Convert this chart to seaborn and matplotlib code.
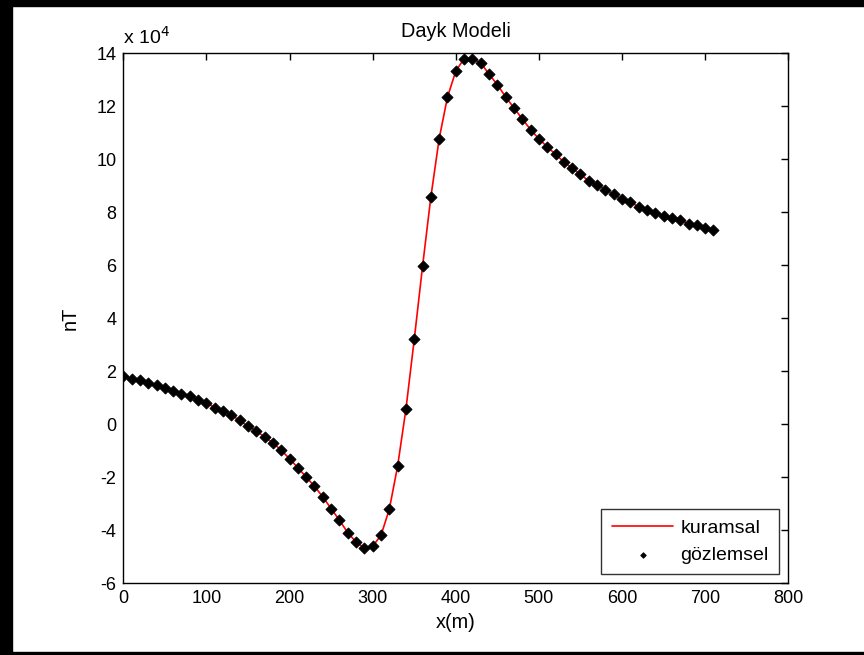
import numpy as np
import pandas as pd
import matplotlib
matplotlib.use("Agg")
import matplotlib.pyplot as plt
from matplotlib.patches import Rectangle
import seaborn as sns

# profile positions (m)
x_m = list(range(0, 720, 10))

gozlemsel = [1.81, 1.72, 1.66, 1.56, 1.48, 1.38, 1.26, 1.16, 1.06, 0.93,
             0.81, 0.63, 0.50, 0.34, 0.15, -0.08, -0.25, -0.48, -0.70, -0.98,
             -1.30, -1.64, -1.99, -2.34, -2.74, -3.18, -3.62, -4.09, -4.44, -4.67,
             -4.60, -4.19, -3.21, -1.58, 0.57, 3.20, 5.96, 8.58, 10.78, 12.35,
             13.33, 13.80, 13.80, 13.64, 13.21, 12.82, 12.35, 11.94, 11.52, 11.12,
             10.77, 10.47, 10.19, 9.90, 9.66, 9.43, 9.18, 9.02, 8.86, 8.68,
             8.49, 8.39, 8.20, 8.10, 7.97, 7.86, 7.80, 7.70, 7.57, 7.51,
             7.41, 7.35]

# theoretical curve follows the observed points
kuramsal = list(gozlemsel)

df = pd.DataFrame({"x": x_m, "kuramsal": kuramsal, "gozlemsel": gozlemsel})

sns.set_theme(style="white")
plt.rcParams['font.family'] = ['Liberation Sans', 'DejaVu Sans']
plt.rcParams['axes.unicode_minus'] = False
plt.rcParams['text.color'] = 'black'
plt.rcParams['axes.labelcolor'] = 'black'

fig = plt.figure(figsize=(8.64, 6.55), dpi=100)
ax = fig.add_axes([0.1427, 0.1095, 0.9124 - 0.1427, 0.9186 - 0.1095])

sns.lineplot(data=df, x="x", y="kuramsal", color="red", linewidth=1.2,
             ax=ax, label="kuramsal")
sns.scatterplot(data=df, x="x", y="gozlemsel", color="black", marker="D",
                s=32, edgecolor="black", linewidth=0.6, ax=ax, label="gözlemsel",
                zorder=3)

ax.set_xlim(0, 800)
ax.set_ylim(-6, 14)
ax.set_xticks(range(0, 801, 100))
ax.set_yticks(range(-6, 15, 2))
ax.tick_params(direction="in", length=5, width=1, top=True, right=True,
               labelsize=13, colors="black", pad=5)
for s in ax.spines.values():
    s.set_color("black")
    s.set_linewidth(1.0)

ax.set_title("Dayk Modeli", fontsize=14.3, pad=12, color="black")
ax.set_xlabel("x(m)", fontsize=14.3, labelpad=4)
ax.set_ylabel("nT", fontsize=14.3, labelpad=12)
ax.text(0.0, 1.01, r"x 10$^4$", transform=ax.transAxes, fontsize=14,
        ha="left", va="bottom")

leg = ax.legend(loc="lower right", frameon=True, fancybox=False, fontsize=14,
                handlelength=3.15, handletextpad=0.36, markerscale=0.5,
                borderaxespad=0.46, borderpad=0.55, labelspacing=0.47)
leg.get_frame().set_edgecolor("black")
leg.get_frame().set_linewidth(1.0)

# black screenshot frame
fig.add_artist(Rectangle((0, 0), 12 / 864, 1, transform=fig.transFigure,
                         color="black", zorder=10))
fig.add_artist(Rectangle((0, 1 - 6 / 655), 1, 6 / 655, transform=fig.transFigure,
                         color="black", zorder=10))
fig.add_artist(Rectangle((0, 0), 1, 3 / 655, transform=fig.transFigure,
                         color="black", zorder=10))

fig.savefig("out.png", dpi=100)
